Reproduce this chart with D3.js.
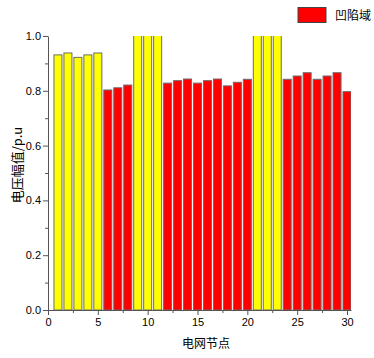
<!DOCTYPE html>
<html>
<head>
<meta charset="utf-8">
<script src="https://cdn.jsdelivr.net/npm/d3@7"></script>
<style>
  body { margin: 0; background: #fff; }
  svg text { font-family: "Liberation Sans", Arial, sans-serif; }
</style>
</head>
<body>
<svg id="chart"></svg>
<script>
const width = 374;
const height = 358;

// node numbers, voltage magnitudes (p.u.), and which nodes sit in the sag region
const nodes = d3.range(1, 31);
const voltages = [0.931, 0.938, 0.922, 0.931, 0.938, 0.803, 0.811, 0.821, 1.05, 1.05,
                  1.05, 0.828, 0.837, 0.843, 0.828, 0.837, 0.843, 0.818, 0.831, 0.842,
                  1.05, 1.05, 1.05, 0.842, 0.854, 0.866, 0.842, 0.854, 0.866, 0.797];
const sagFlags = [0, 0, 0, 0, 0, 1, 1, 1, 0, 0,
                  0, 1, 1, 1, 1, 1, 1, 1, 1, 1,
                  0, 0, 0, 1, 1, 1, 1, 1, 1, 1];
const xTicks = [0, 5, 10, 15, 20, 25, 30];
const xMinor = [2.5, 7.5, 12.5, 17.5, 22.5, 27.5];
const yTicks = [0, 0.2, 0.4, 0.6, 0.8, 1.0];
const yMinor = [0.1, 0.3, 0.5, 0.7, 0.9];
const legendLabel = "凹陷域";
const xTitle = "电网节点";
const yTitle = "电压幅值/p.u";

const svg = d3.select("#chart")
    .attr("width", width)
    .attr("height", height);

const x = d3.scaleLinear().domain([0, 30.4]).range([48, 351]);
const y = d3.scaleLinear().domain([0, 1]).range([310, 36]);
const barW = 8;
const axisColor = "#555";

svg.append("clipPath")
    .attr("id", "plot-clip")
  .append("rect")
    .attr("x", 48)
    .attr("y", 36)
    .attr("width", 303)
    .attr("height", 274);

const data = nodes.map((n, i) => ({ node: n, v: voltages[i], sag: sagFlags[i] }));

svg.append("g")
    .attr("clip-path", "url(#plot-clip)")
  .selectAll("rect")
  .data(data)
  .join("rect")
    .attr("x", d => x(d.node) - barW / 2)
    .attr("y", d => y(d.v))
    .attr("width", barW)
    .attr("height", d => y(0) - y(d.v))
    .attr("fill", d => d.sag ? "#ff0000" : "#ffff00")
    .attr("stroke", "#6b6b6b")
    .attr("stroke-width", 1);

// x axis
const xAxis = svg.append("g")
    .attr("transform", `translate(0,${y(0)})`)
    .call(d3.axisBottom(x).tickValues(xTicks).tickFormat(d3.format("d")).tickSizeInner(5).tickSizeOuter(0));
svg.append("g")
    .attr("transform", `translate(0,${y(0)})`)
    .call(d3.axisBottom(x).tickValues(xMinor).tickFormat("").tickSizeInner(3).tickSizeOuter(0))
    .select(".domain").remove();

// y axis
const yAxis = svg.append("g")
    .attr("transform", `translate(${x(0)},0)`)
    .call(d3.axisLeft(y).tickValues(yTicks).tickFormat(d3.format(".1f")).tickSizeInner(5).tickSizeOuter(0).tickPadding(2));
svg.append("g")
    .attr("transform", `translate(${x(0)},0)`)
    .call(d3.axisLeft(y).tickValues(yMinor).tickFormat("").tickSizeInner(3).tickSizeOuter(0))
    .select(".domain").remove();

svg.selectAll(".domain, .tick line").attr("stroke", axisColor);
svg.selectAll(".tick text")
    .attr("fill", "#000")
    .style("font-size", "11px");

svg.append("text")
    .attr("x", 206)
    .attr("y", 348)
    .attr("text-anchor", "middle")
    .style("font-size", "12px")
    .style("font-family", "'Noto Sans CJK SC', sans-serif")
    .text(xTitle);

svg.append("text")
    .attr("transform", "translate(22,165) rotate(-90)")
    .attr("text-anchor", "middle")
    .style("font-size", "13px")
    .style("font-family", "'Noto Sans CJK SC', sans-serif")
    .text(yTitle);

// legend
svg.append("rect")
    .attr("x", 298)
    .attr("y", 7.5)
    .attr("width", 28)
    .attr("height", 15)
    .attr("fill", "#ff0000")
    .attr("stroke", "#444")
    .attr("stroke-width", 1);
svg.append("text")
    .attr("x", 335)
    .attr("y", 19.5)
    .style("font-size", "12px")
    .style("font-family", "'Noto Sans CJK SC', sans-serif")
    .text(legendLabel);
</script>
</body>
</html>
